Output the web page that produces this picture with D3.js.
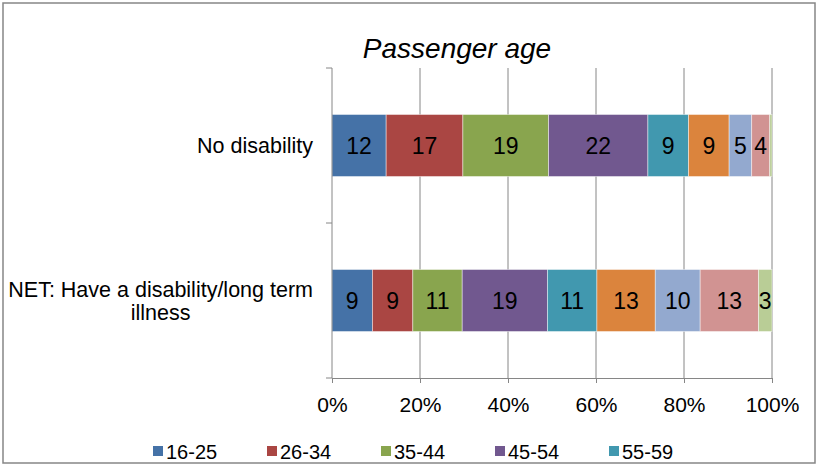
<!DOCTYPE html>
<html>
<head>
<meta charset="utf-8">
<script src="https://cdn.jsdelivr.net/npm/d3@7/dist/d3.min.js"></script>
<style>
  html, body { margin: 0; padding: 0; background: #fff; }
  svg { display: block; }
  text { font-family: "Liberation Sans", Arial, sans-serif; fill: #000; }
</style>
</head>
<body>
<svg id="chart" width="817" height="466"></svg>
<script>
// Respondent groups (one bar each)
const categories = ["No disability", "NET: Have a disability/long term illness"];

// Age bands, in stacking order
const ageBands = ["16-25", "26-34", "35-44", "45-54", "55-59", "60-64", "65-70", "71-79", "80+"];

// Percentage of passengers in each age band
const noDisability = [12, 17, 19, 22, 9, 9, 5, 4, 0.5];
const haveDisability = [9, 9, 11, 19, 11, 13, 10, 13, 3];

// Axis tick values (share of total)
const tickValues = [0, 0.2, 0.4, 0.6, 0.8, 1.0];

// Only the first row of the legend is visible within the chart frame
const legendShown = ["16-25", "26-34", "35-44", "45-54", "55-59"];

const colors = ["#4572A7", "#AA4643", "#89A54E", "#71588F", "#4198AF",
                "#DB843D", "#93A9CF", "#D19392", "#B9CD96"];

const rows = categories.map((c, i) => {
  const vals = i === 0 ? noDisability : haveDisability;
  const r = { category: c };
  ageBands.forEach((b, j) => r[b] = vals[j]);
  return r;
});

const svg = d3.select("#chart");
const plot = { left: 332, right: 772, top: 68, bottom: 378 };

// Chart frame
svg.append("rect")
  .attr("x", 3).attr("y", 3).attr("width", 812).attr("height", 460)
  .attr("fill", "#fff").attr("stroke", "#868686").attr("stroke-width", 1.5);

svg.append("clipPath").attr("id", "frame")
  .append("rect").attr("x", 4).attr("y", 4).attr("width", 810).attr("height", 458);

const g = svg.append("g").attr("clip-path", "url(#frame)");

// Title
g.append("text")
  .attr("x", 457).attr("y", 58)
  .attr("text-anchor", "middle")
  .style("font-size", "28px").style("font-style", "italic")
  .text("Passenger age");

const x = d3.scaleLinear().domain([0, 1]).range([plot.left, plot.right]);
const y = d3.scaleBand().domain(categories)
  .range([plot.top, plot.bottom]).paddingInner(0.6).paddingOuter(0.3);

const stack = d3.stack().keys(ageBands).offset(d3.stackOffsetExpand);
const series = stack(rows);

// Vertical gridlines
g.append("g").selectAll("line")
  .data(tickValues.slice(1))
  .join("line")
  .attr("x1", d => x(d)).attr("x2", d => x(d))
  .attr("y1", plot.top).attr("y2", plot.bottom)
  .attr("stroke", "#868686").attr("stroke-width", 1);

// Bars
const layers = g.append("g").selectAll("g")
  .data(series)
  .join("g")
  .attr("fill", (d, i) => colors[i]);

layers.selectAll("rect")
  .data(d => d.map(seg => ({ seg, key: d.key })))
  .join("rect")
  .attr("x", d => x(d.seg[0]))
  .attr("width", d => x(d.seg[1]) - x(d.seg[0]))
  .attr("y", d => y(d.seg.data.category))
  .attr("height", y.bandwidth())
  .attr("stroke", "#ffffff").attr("stroke-width", 0.8).attr("stroke-opacity", 0.55);

// Value labels
layers.selectAll("text")
  .data(d => d.map(seg => ({ seg, key: d.key })).filter(d => d.seg.data[d.key] >= 1))
  .join("text")
  .attr("x", d => (x(d.seg[0]) + x(d.seg[1])) / 2)
  .attr("y", d => y(d.seg.data.category) + y.bandwidth() / 2)
  .attr("dy", "0.35em")
  .attr("text-anchor", "middle")
  .style("font-size", "23px")
  .text(d => d.seg.data[d.key]);

// X axis
const xAxis = g.append("g").attr("transform", `translate(0,${plot.bottom})`)
  .call(d3.axisBottom(x).tickValues(tickValues).tickFormat(d3.format(".0%"))
    .tickSizeInner(5).tickSizeOuter(0).tickPadding(14));
xAxis.select(".domain").attr("stroke", "#868686");
xAxis.selectAll(".tick line").attr("stroke", "#868686");
xAxis.selectAll(".tick text")
  .attr("font-family", null).style("font-size", "21px").attr("fill", "#000");

// Y axis: line with ticks at category boundaries
const boundaries = [plot.top, (plot.top + plot.bottom) / 2, plot.bottom];
g.append("line")
  .attr("x1", plot.left).attr("x2", plot.left)
  .attr("y1", plot.top).attr("y2", plot.bottom)
  .attr("stroke", "#868686");
g.append("g").selectAll("line")
  .data(boundaries)
  .join("line")
  .attr("x1", plot.left - 6).attr("x2", plot.left)
  .attr("y1", d => d).attr("y2", d => d)
  .attr("stroke", "#868686");

// Category labels, wrapped and right-aligned as a block
const labelRight = 313, maxLabelWidth = 312, lineHeight = 23, labelSize = "21.5px";
categories.forEach(cat => {
  const words = cat.split(" ");
  const probe = g.append("text").style("font-size", labelSize);
  const lines = [];
  let line = [];
  words.forEach(w => {
    const trial = line.concat(w).join(" ");
    probe.text(trial);
    if (probe.node().getComputedTextLength() > maxLabelWidth && line.length) {
      lines.push(line.join(" "));
      line = [w];
    } else {
      line.push(w);
    }
  });
  lines.push(line.join(" "));
  const widths = lines.map(l => { probe.text(l); return probe.node().getComputedTextLength(); });
  probe.remove();
  const blockW = d3.max(widths);
  const cx = labelRight - blockW / 2;
  const cy = y(cat) + y.bandwidth() / 2;
  const t = g.append("text")
    .attr("text-anchor", "middle")
    .style("font-size", labelSize);
  lines.forEach((l, i) => {
    t.append("tspan")
      .attr("x", cx)
      .attr("y", cy + (i - (lines.length - 1) / 2) * lineHeight)
      .attr("dy", "0.35em")
      .text(l);
  });
});

// Legend
const legend = g.append("g").selectAll("g")
  .data(legendShown)
  .join("g")
  .attr("transform", (d, i) => `translate(${153 + i * 114},0)`);
legend.append("rect")
  .attr("x", 0).attr("y", 446).attr("width", 10).attr("height", 10)
  .attr("fill", d => colors[ageBands.indexOf(d)]);
legend.append("text")
  .attr("x", 13).attr("y", 459)
  .style("font-size", "20px")
  .text(d => d);
</script>
</body>
</html>
